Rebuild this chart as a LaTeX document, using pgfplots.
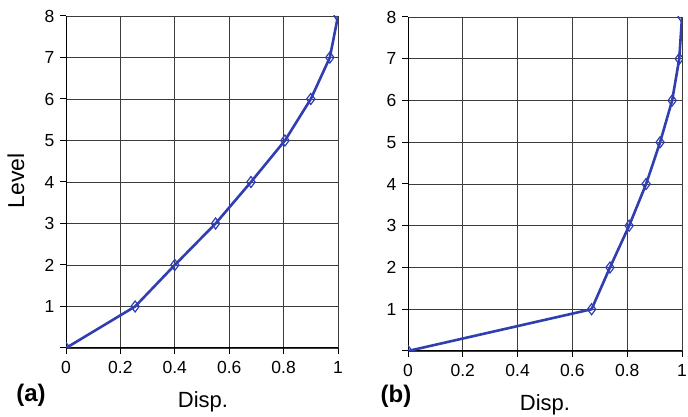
\documentclass[border=0pt]{standalone}
\usepackage{pgfplots}
\pgfplotsset{compat=1.18}
\usepackage{fontspec}
\setmainfont{Liberation Sans}
\definecolor{lineblue}{RGB}{48,62,176}
\definecolor{gridc}{RGB}{60,60,60}
\pgfplotsset{
  panel/.style={
    scale only axis,
    xmin=0, xmax=1, ymin=0, ymax=8,
    xtick={0,0.2,0.4,0.6,0.8,1},
    xticklabels={0,0.2,0.4,0.6,0.8,1},
    ytick={0,1,2,3,4,5,6,7,8},
    yticklabels={,1,2,3,4,5,6,7,8},
    axis lines=left,
    axis line style={-, black, line width=1pt},
    tick align=outside,
    major tick length=6pt,
    tick style={black, line width=1pt},
    grid=major,
    major grid style={gridc, line width=0.8pt},
    tick label style={font=\fontsize{17.5}{20}\selectfont},
    /pgf/number format/assume math mode=true,
    xticklabel style={yshift=-4pt},
    yticklabel style={xshift=-2pt},
    clip marker paths=true,
  },
  curve/.style={lineblue, line width=2.6pt, mark=diamond,
    mark size=5.5pt, mark options={solid, fill=none, line width=1.2pt}},
}
\begin{document}
\begin{tikzpicture}[x=1pt,y=1pt]
\path (0,0) rectangle (688,417);
\begin{axis}[panel, at={(66pt,69pt)}, anchor=south west, width=272pt, height=332pt]
\addplot[curve] coordinates {
(0,0) (0.254,1) (0.40,2) (0.55,3) (0.68,4) (0.805,5) (0.90,6) (0.97,7) (1.0,8)};
\end{axis}
\begin{axis}[panel, at={(408pt,66pt)}, anchor=south west, width=274pt, height=334pt]
\addplot[curve] coordinates {
(0,0) (0.67,1) (0.737,2) (0.807,3) (0.869,4) (0.92,5) (0.964,6) (0.99,7) (1.0,8)};
\end{axis}
\node[rotate=90, font=\fontsize{23}{26}\selectfont] at (16,236) {Level};
\node[font=\fontsize{22}{25}\selectfont] at (203,15) {Disp.};
\node[font=\fontsize{22}{25}\selectfont] at (545,12) {Disp.};
\node[font=\fontsize{24}{27}\selectfont\bfseries] at (31,22) {(a)};
\node[font=\fontsize{24}{27}\selectfont\bfseries] at (396,21) {(b)};
\pgfresetboundingbox
\path[use as bounding box] (0,0) rectangle (688,417);
\end{tikzpicture}
\end{document}
